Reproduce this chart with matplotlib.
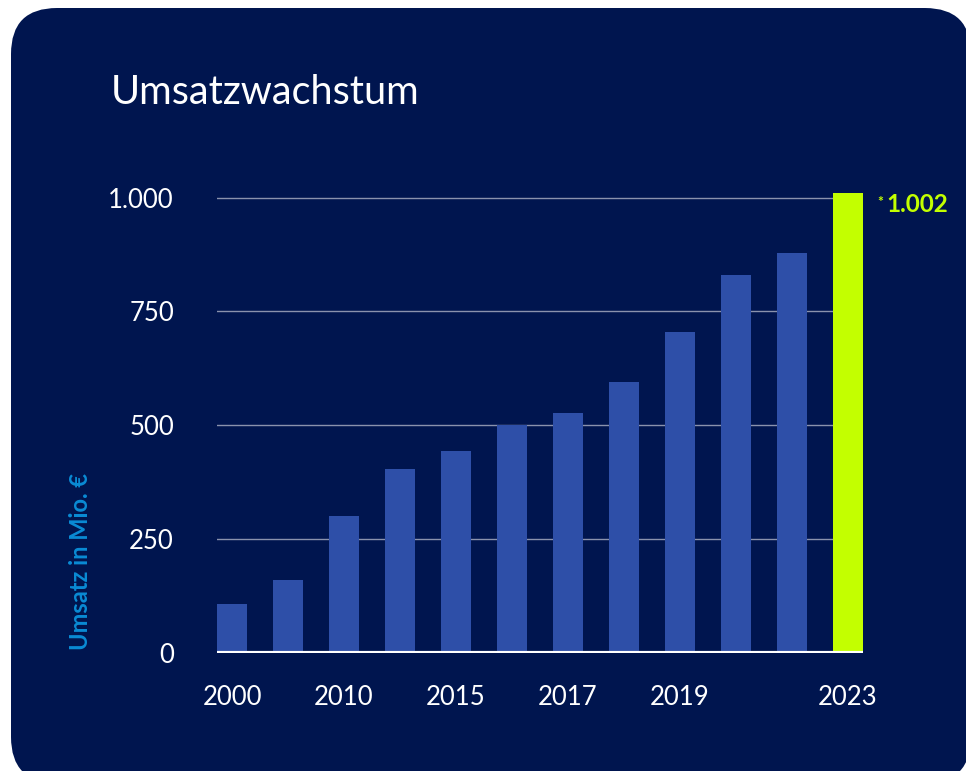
import matplotlib
matplotlib.use("Agg")
import matplotlib.pyplot as plt
import matplotlib.transforms as mtransforms
from matplotlib.patches import FancyBboxPatch

# data
years = ["2000", "", "2010", "", "2015", "", "2017", "", "2019", "", "", "2023"]
umsatz = [107, 160, 300, 404, 444, 500, 526, 596, 704, 830, 878, 1010]
highlight_label = "1.002"
yticks = [0, 250, 500, 750, 1000]
ytick_labels = ["0", "250", "500", "750", "1.000"]

navy = "#00154f"
bar_blue = "#2e4fa8"
lime = "#c3ff00"
label_blue = "#0a8bd5"
grid_col = "#8a92ad"

plt.rcParams["font.family"] = ["Lato", "DejaVu Sans"]

W, H = 966, 771
fig = plt.figure(figsize=(W / 100, H / 100), dpi=100)
fig.patch.set_facecolor("white")

# rounded card behind everything (pixel coords)
card = FancyBboxPatch((11, -12), 960, H - 8 + 12,
                      boxstyle="round,pad=0,rounding_size=46",
                      transform=mtransforms.IdentityTransform(),
                      facecolor=navy, edgecolor="none", zorder=-5)
fig.patches.append(card)

fig.text(111 / W, 1 - 104 / H, "Umsatzwachstum", color="white",
         fontsize=28.5, fontweight="normal", va="baseline", ha="left")

px_per_unit = 0.455
y0 = 652.7
ytop = 1050
ax_left, ax_right = 217, 863
ax_top = y0 - ytop * px_per_unit
ax = fig.add_axes([ax_left / W, 1 - y0 / H, (ax_right - ax_left) / W, (y0 - ax_top) / H])
ax.set_facecolor("none")
ax.set_zorder(2)

x = list(range(len(umsatz)))
colors = [bar_blue] * (len(umsatz) - 1) + [lime]
for yv in yticks[1:]:
    ax.axhline(yv, color=grid_col, lw=1.0, zorder=1)
ax.bar(x, umsatz, width=30 / 56, color=colors, zorder=2)
ax.axhline(0, color="white", lw=3, zorder=3)

ax.set_xlim(-0.268, len(umsatz) - 1 + 0.268)
ax.set_ylim(0, ytop)
ax.set_yticks(yticks, ytick_labels)
ax.set_xticks(x, years)
ax.tick_params(length=0, colors="white", labelsize=18.5)
ax.tick_params(axis="y", pad=31)
ax.tick_params(axis="x", pad=23)
for s in ax.spines.values():
    s.set_visible(False)

# highlight label on last bar
ax.annotate(highlight_label, xy=(len(umsatz) - 1 + 0.268, umsatz[-1]),
            xytext=(16.5, -8.4), textcoords="offset points",
            color=lime, fontsize=17.5, fontweight="bold", ha="left", va="center",
            annotation_clip=False)
ax.annotate("*", xy=(len(umsatz) - 1 + 0.268, umsatz[-1]),
            xytext=(10.5, -2), textcoords="offset points",
            color=lime, fontsize=10, fontweight="bold", ha="left", va="top",
            annotation_clip=False)

fig.text(80 / W, 1 - 562 / H, "Umsatz in Mio. €", color=label_blue,
         fontsize=17, fontweight="bold", rotation=90, ha="center", va="center")

fig.savefig("out.png", dpi=100, facecolor=fig.get_facecolor())
